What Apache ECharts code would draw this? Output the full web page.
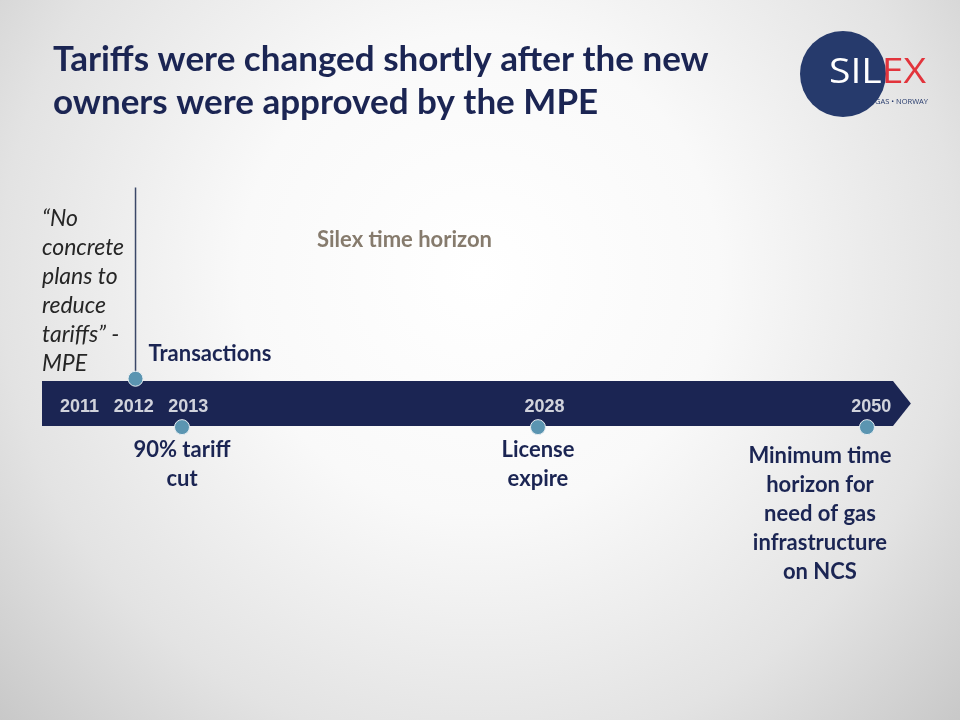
<!DOCTYPE html>
<html>
<head>
<meta charset="utf-8">
<title>Silex timeline</title>
<script src="https://cdn.jsdelivr.net/npm/echarts@6/dist/echarts.min.js"></script>
<style>
    html, body { margin: 0; padding: 0; }
    #chart { width: 960px; height: 720px; }
</style>
</head>
<body>
<div id="chart"></div>
<script>
// x = position along the arrow body, % of its length (the slide is not to scale)
const yearLabels = ['2011', '2012', '2013', '2028', '2050']
const yearPos = [4.41, 10.79, 17.19, 59.05, 97.45]

const eventPos = [10.99, 16.45, 58.28, 96.94]
const eventSide = [1.1, -1.05, -1.05, -1.05] // above / below the band
const eventText = [
    'Transactions',
    '90% tariff\ncut',
    'License\nexpire',
    'Minimum time\nhorizon for\nneed of gas\ninfrastructure\non NCS'
]

const titleText = 'Tariffs were changed shortly after the new\nowners were approved by the MPE'
const quoteText = '\u201cNo\nconcrete\nplans to\nreduce\ntariffs\u201d -\nMPE'
const horizonText = 'Silex time horizon'

const navy = '#1b2553'
const dotColor = '#5b95b1'
const font = 'Lato'

const chart = echarts.init(document.getElementById('chart'), null, { renderer: 'canvas' })

// label tweaks per event (Transactions sits to the right, the 2050 text is shifted left)
const eventLabel = (i) => {
    if (i === 0) return { position: 'right', distance: 5, offset: [0, -24.5] }
    if (i === 3) return { position: 'bottom', distance: 0, offset: [-47, 6] }
    return { position: 'bottom', distance: 0 }
}

chart.setOption({
    backgroundColor: new echarts.graphic.RadialGradient(0.5, 0.38, 0.95, [
        { offset: 0, color: '#ffffff' },
        { offset: 0.35, color: '#f9f9f9' },
        { offset: 0.7, color: '#e3e3e3' },
        { offset: 1, color: '#c4c4c4' }
    ]),
    animation: false,
    grid: { left: 42, right: 67, top: 381, bottom: 294 },
    xAxis: { type: 'value', min: 0, max: 100, show: false },
    yAxis: { type: 'value', min: -1, max: 1, show: false },
    graphic: [
        {
            type: 'text', left: 53, top: 38,
            style: { text: titleText, fill: navy, font: `bold 35px ${font}`, lineHeight: 43 }
        },
        {
            type: 'text', left: 42, top: 204,
            style: { text: quoteText, fill: '#262626', font: `italic 23px ${font}`, lineHeight: 29 }
        },
        {
            type: 'text', left: 317, top: 229,
            style: { text: horizonText, fill: '#867b6d', font: `bold 22px ${font}` }
        },
        // logo
        {
            type: 'circle', shape: { cx: 843, cy: 74, r: 43 },
            style: { fill: '#263a6c' }
        },
        {
            type: 'text', x: 829, y: 73.5, scaleX: 1.15,
            style: {
                text: '{a|SIL}{b|EX}',
                verticalAlign: 'middle',
                rich: {
                    a: { fill: '#ffffff', font: '34px "Open Sans"' },
                    b: { fill: '#e2343c', font: '34px "Open Sans"' }
                }
            }
        },
        {
            type: 'text', left: 875, top: 98,
            style: { text: 'GAS \u2022 NORWAY', fill: '#263a6c', font: '7.5px "Open Sans"' }
        }
    ],
    series: [
        {
            type: 'custom',
            silent: true,
            clip: false,
            data: [[0]],
            renderItem: (params, api) => {
                const pts = [[0, 1], [100, 1], [102.1, 0], [100, -1], [0, -1]].map(c => api.coord(c))
                return { type: 'polygon', shape: { points: pts }, style: { fill: navy } }
            },
            z: 1
        },
        {
            // leader line up from 2012
            type: 'line',
            clip: false,
            symbol: 'none',
            data: [[eventPos[0], eventSide[0]], [eventPos[0], 9.6]],
            lineStyle: { color: '#3b4868', width: 1.5 },
            z: 2
        },
        {
            type: 'scatter',
            clip: false,
            symbolSize: 0,
            data: yearLabels.map((y, i) => ({
                value: [yearPos[i], 0],
                label: {
                    show: true, position: 'inside', formatter: y, offset: [0, 4],
                    color: '#ffffff', fontFamily: 'Liberation Sans', fontWeight: 'bold', fontSize: 18
                }
            })),
            z: 3
        },
        {
            type: 'scatter',
            clip: false,
            symbolSize: 15,
            itemStyle: { color: dotColor, borderColor: '#e8eef2', borderWidth: 1, opacity: 1 },
            data: eventText.map((t, i) => ({
                value: [eventPos[i], eventSide[i]],
                label: Object.assign({
                    show: true, formatter: t, align: i === 0 ? 'left' : 'center',
                    color: navy, fontFamily: font, fontWeight: 'bold', fontSize: 22, lineHeight: 29
                }, eventLabel(i))
            })),
            z: 4
        }
    ]
})
</script>
</body>
</html>
